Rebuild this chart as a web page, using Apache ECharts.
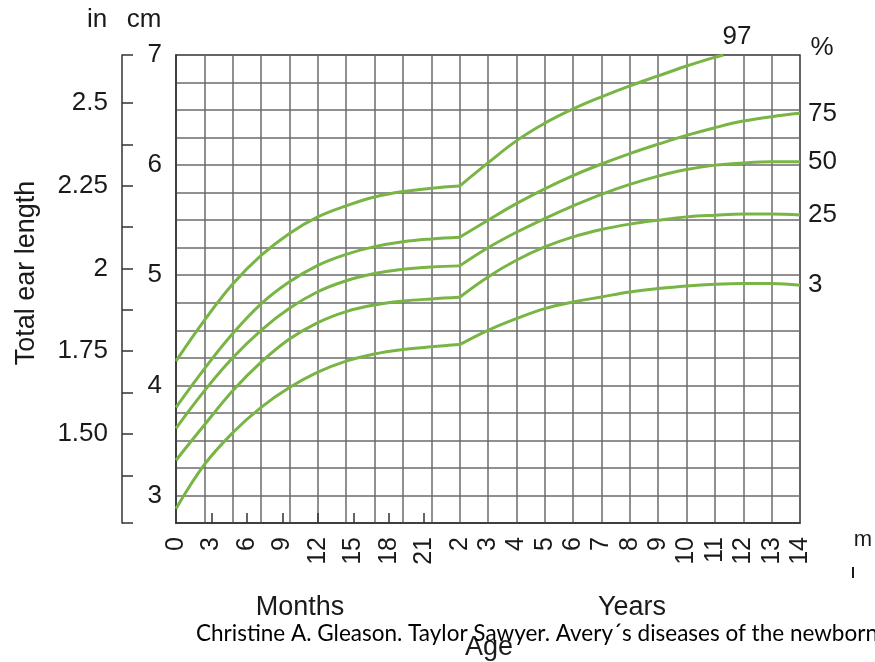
<!DOCTYPE html>
<html>
<head>
<meta charset="utf-8">
<script src="https://cdn.jsdelivr.net/npm/echarts@6/dist/echarts.min.js"></script>
<style>
html,body{margin:0;padding:0;background:#fff;}
#chart{width:875px;height:662px;}
</style>
</head>
<body>
<div id="chart"></div>
<script>
// Age in years (0-2 years plotted on the stretched "Months" scale, then yearly)
var ages = [0, 0.2, 0.4, 0.6, 0.8, 1.0, 1.2, 1.4, 1.6, 1.8, 2.0, 3, 4, 5, 6, 7, 8, 9, 10, 11, 12, 13, 14];
var ages97 = [0, 0.2, 0.4, 0.6, 0.8, 1.0, 1.2, 1.4, 1.6, 1.8, 2.0, 3, 4, 5, 6, 7, 8, 9, 10, 11, 11.3];

// Total ear length (cm) by percentile
var p97 = [4.22, 4.59, 4.92, 5.18, 5.38, 5.53, 5.63, 5.71, 5.76, 5.79, 5.81, 6.02, 6.22, 6.38, 6.51, 6.62, 6.72, 6.81, 6.90, 6.98, 7.0];
var p75 = [3.80, 4.15, 4.47, 4.74, 4.94, 5.09, 5.19, 5.26, 5.305, 5.33, 5.345, 5.50, 5.65, 5.785, 5.905, 6.01, 6.105, 6.19, 6.27, 6.34, 6.40, 6.44, 6.47];
var p50 = [3.61, 3.95, 4.25, 4.50, 4.70, 4.85, 4.95, 5.015, 5.055, 5.075, 5.085, 5.25, 5.39, 5.515, 5.63, 5.735, 5.825, 5.90, 5.96, 6.0, 6.02, 6.03, 6.03];
var p25 = [3.32, 3.64, 3.95, 4.21, 4.42, 4.57, 4.67, 4.73, 4.765, 4.785, 4.80, 4.985, 5.136, 5.257, 5.348, 5.415, 5.464, 5.50, 5.53, 5.545, 5.555, 5.555, 5.548];
var p3  = [2.88, 3.28, 3.57, 3.80, 3.98, 4.12, 4.22, 4.285, 4.325, 4.35, 4.37, 4.50, 4.606, 4.697, 4.757, 4.803, 4.848, 4.879, 4.903, 4.918, 4.924, 4.924, 4.909];

// Tick labels
var monthTicks = [0, 3, 6, 9, 12, 15, 18, 21];
var yearTicks = [2, 3, 4, 5, 6, 7, 8, 9, 10, 11, 12, 13, 14];
var inchLabelValues = [1.5, 1.75, 2, 2.25, 2.5];
var inchLabelTexts = ['1.50', '1.75', '2', '2.25', '2.5'];
var inchMinorValues = [1.375, 1.5, 1.625, 1.75, 1.875, 2, 2.125, 2.25, 2.375, 2.5];

// axis unit: 0-24 months -> 0..10, 2..14 years -> 10..22
function toUnit(ageYears) { return ageYears <= 2 ? ageYears * 5 : 10 + (ageYears - 2); }

var GREEN = '#78b544';
var FONT = '"Liberation Sans", Arial, Helvetica, sans-serif';
var INCH_MIN = 1.2311, INCH_MAX = 2.645;

var percentiles = [
  {name: '97', ages: ages97, vals: p97, endLabel: false},
  {name: '75', ages: ages, vals: p75, endLabel: true},
  {name: '50', ages: ages, vals: p50, endLabel: true},
  {name: '25', ages: ages, vals: p25, endLabel: true},
  {name: '3',  ages: ages, vals: p3,  endLabel: true}
];

var series = [];
percentiles.forEach(function (p) {
  var infancy = [], childhood = [];
  for (var i = 0; i < p.ages.length; i++) {
    var pt = [toUnit(p.ages[i]), p.vals[i]];
    if (p.ages[i] <= 2) infancy.push(pt);
    if (p.ages[i] >= 2) childhood.push(pt);
  }
  var base = {
    type: 'line', name: p.name, xAxisIndex: 0, yAxisIndex: 0,
    showSymbol: false, symbol: 'none', smooth: 0.4,
    lineStyle: {color: GREEN, width: 3}, itemStyle: {color: GREEN},
    silent: true, z: 5
  };
  series.push(Object.assign({}, base, {data: infancy}));
  series.push(Object.assign({}, base, {
    data: childhood,
    endLabel: {
      show: p.endLabel, formatter: p.name, color: '#1a1a1a',
      fontSize: 26, fontFamily: FONT, distance: 8
    }
  }));
});

var chart = echarts.init(document.getElementById('chart'), null, {renderer: 'canvas'});
chart.setOption({
  animation: false,
  backgroundColor: '#fff',
  grid: {
    left: 176, top: 55, width: 624, height: 468,
    show: true, borderColor: '#333', borderWidth: 1.5, backgroundColor: 'transparent',
    containLabel: false, outerBoundsMode: 'none'
  },
  xAxis: [
    {
      type: 'value', min: 0, max: 22, interval: 1, position: 'bottom',
      axisLine: {show: false, onZero: false}, axisTick: {show: false}, axisLabel: {show: false},
      splitLine: {show: true, showMinLine: false, showMaxLine: false, lineStyle: {color: '#6b6b6b', width: 1.5}}
    },
    {
      type: 'value', min: 0, max: 22, position: 'bottom',
      axisLine: {show: true, onZero: false, lineStyle: {color: '#333', width: 1.5}},
      axisTick: {
        show: true, inside: true, length: 10,
        customValues: monthTicks.slice(1).map(function (m) { return toUnit(m / 12); }),
        lineStyle: {color: '#333', width: 1.5}
      },
      axisLabel: {
        show: true, rotate: 90, margin: 14, fontSize: 25, fontFamily: FONT, color: '#1a1a1a',
        customValues: monthTicks.map(function (m) { return toUnit(m / 12); })
          .concat(yearTicks.map(function (y) { return toUnit(y); })),
        formatter: function (v) {
          for (var i = 0; i < monthTicks.length; i++) {
            if (Math.abs(toUnit(monthTicks[i] / 12) - v) < 1e-6) return String(monthTicks[i]);
          }
          for (var j = 0; j < yearTicks.length; j++) {
            if (Math.abs(toUnit(yearTicks[j]) - v) < 1e-6) return String(yearTicks[j]);
          }
          return '';
        }
      },
      splitLine: {show: false}
    }
  ],
  yAxis: [
    {
      type: 'value', min: 2.75, max: 7, interval: 0.25, position: 'left',
      axisLine: {show: true, onZero: false, lineStyle: {color: '#333', width: 1.5}},
      axisTick: {show: false},
      axisLabel: {
        show: true, margin: 14, fontSize: 26, fontFamily: FONT, color: '#1a1a1a',
        formatter: function (v) { return Math.abs(v - Math.round(v)) < 1e-9 ? String(Math.round(v)) : ''; }
      },
      splitLine: {show: true, showMinLine: false, showMaxLine: false, lineStyle: {color: '#6b6b6b', width: 1.5}}
    },
    {
      type: 'value', min: INCH_MIN, max: INCH_MAX, position: 'left', offset: 54,
      axisLine: {show: true, onZero: false, lineStyle: {color: '#333', width: 1.5}},
      axisTick: {
        show: true, inside: true, length: 11,
        customValues: [INCH_MIN].concat(inchMinorValues).concat([INCH_MAX]),
        lineStyle: {color: '#333', width: 1.5}
      },
      axisLabel: {
        show: true, margin: 14, fontSize: 26, fontFamily: FONT, color: '#1a1a1a',
        customValues: inchLabelValues,
        formatter: function (v) {
          for (var i = 0; i < inchLabelValues.length; i++) {
            if (Math.abs(inchLabelValues[i] - v) < 1e-6) return inchLabelTexts[i];
          }
          return '';
        }
      },
      splitLine: {show: false}
    }
  ],
  graphic: [
    {type: 'text', x: 97, y: 20, style: {text: 'in', font: '26px ' + FONT, fill: '#1a1a1a', align: 'center', verticalAlign: 'middle'}},
    {type: 'text', x: 144, y: 20, style: {text: 'cm', font: '26px ' + FONT, fill: '#1a1a1a', align: 'center', verticalAlign: 'middle'}},
    {type: 'text', x: 737, y: 37, style: {text: '97', font: '26px ' + FONT, fill: '#1a1a1a', align: 'center', verticalAlign: 'middle'}},
    {type: 'text', x: 822, y: 48, style: {text: '%', font: '26px ' + FONT, fill: '#1a1a1a', align: 'center', verticalAlign: 'middle'}},
    {type: 'text', x: 27, y: 273, rotation: Math.PI / 2, style: {text: 'Total ear length', font: '27px ' + FONT, fill: '#1a1a1a', align: 'center', verticalAlign: 'middle'}},
    {type: 'text', x: 300, y: 608, style: {text: 'Months', font: '27px ' + FONT, fill: '#1a1a1a', align: 'center', verticalAlign: 'middle'}},
    {type: 'text', x: 632, y: 608, style: {text: 'Years', font: '27px ' + FONT, fill: '#1a1a1a', align: 'center', verticalAlign: 'middle'}},
    {type: 'text', x: 489, y: 648, style: {text: 'Age', font: '27px ' + FONT, fill: '#1a1a1a', align: 'center', verticalAlign: 'middle'}},
    {type: 'text', x: 196, y: 634, style: {text: 'Christine A. Gleason. Taylor Sawyer. Avery\u00b4s diseases of the newborn', font: '22.5px Lato, "Open Sans", sans-serif', fill: '#000', align: 'left', verticalAlign: 'middle'}},
    {type: 'text', x: 863, y: 540, style: {text: 'm', font: '22px ' + FONT, fill: '#1a1a1a', align: 'center', verticalAlign: 'middle'}},
    {type: 'rect', shape: {x: 852, y: 567, width: 2, height: 11}, style: {fill: '#1a1a1a'}}
  ],
  series: series
});
</script>
</body>
</html>
